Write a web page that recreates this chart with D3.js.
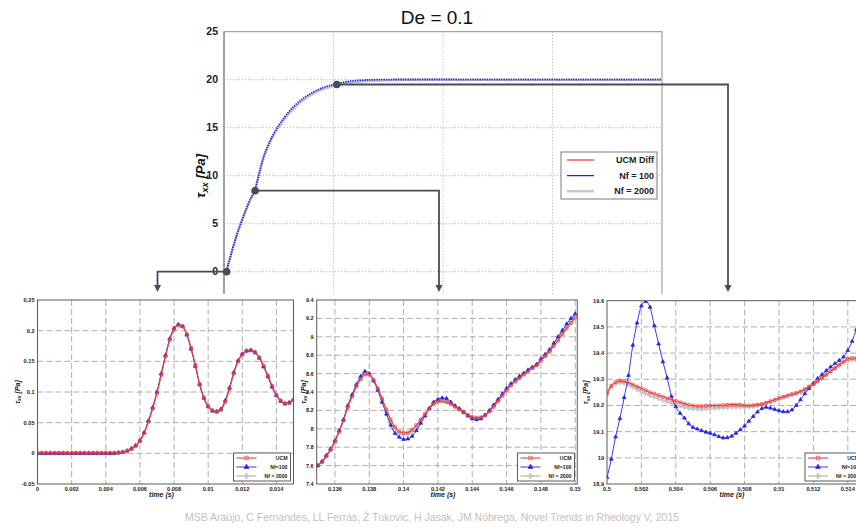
<!doctype html>
<html>
<head>
<meta charset="utf-8">
<script src="https://d3js.org/d3.v7.min.js"></script>
<style>
  body { margin: 0; background: #fff; }
  svg { display: block; font-family: "Liberation Sans", Arial, sans-serif; }
</style>
</head>
<body>
<div id="chart"></div>
<script>
// ---------------- main plot (De = 0.1) ----------------
var mainTime   = [0, 0.01, 0.02, 0.04, 0.06, 0.08, 0.1, 0.12, 0.14, 0.16, 0.18, 0.2, 0.225, 0.25, 0.3, 0.35, 0.4, 0.45, 0.5, 0.55, 0.6, 0.7, 0.8, 1.0, 1.25, 1.5, 1.75, 2.0];
var mainUcm    = [0, 0.05, 0.8, 2.4, 3.9, 5.2, 6.4, 7.5, 8.4, 10.1, 11.8, 13.0, 14.2, 15.1, 16.6, 17.7, 18.5, 19.05, 19.4, 19.63, 19.78, 19.93, 19.98, 20.0, 20.0, 20.0, 20.0, 20.0];
var mainNf100  = [0, 0.05, 0.8, 2.45, 3.95, 5.25, 6.45, 7.55, 8.45, 10.2, 11.9, 13.1, 14.3, 15.25, 16.75, 17.85, 18.6, 19.15, 19.5, 19.75, 19.9, 20.0, 20.02, 20.02, 20.0, 20.0, 20.0, 20.0];
var mainNf2000 = [0, 0.05, 0.8, 2.4, 3.9, 5.2, 6.4, 7.5, 8.4, 10.1, 11.8, 12.95, 14.15, 15.05, 16.55, 17.65, 18.45, 19.0, 19.35, 19.6, 19.75, 19.9, 19.97, 20.0, 20.0, 20.0, 20.0, 20.0];
var mainYTicks = [0, 5, 10, 15, 20, 25];
var mainXGrid  = [0.5, 1, 1.5];
// points of the main curve that are zoomed in the three small plots
var zoomTime  = [0.012, 0.142, 0.515];
var zoomValue = [0, 8.44, 19.5];

var mainNames = ["UCM Diff", "Nf = 100", "Nf = 2000"];
var subNames  = ["UCM", "Nf=100", "Nf = 2000"];

// ---------------- zoom 1 : t = 0 .. 0.015 ----------------
var sub1Time = d3.range(61).map(function(i) { return i * 0.00025; });
var sub1Ucm = [0.001,0.001,0.001,0.001,0.001,0.001,0.001,0.001,0.001,0.001,0.001,0.001,0.001,0.001,0.001,0.001,0.001,0.001,0.001,
  0.001, 0.002, 0.004, 0.007, 0.012, 0.02, 0.033, 0.052, 0.073, 0.098, 0.128, 0.158, 0.185, 0.202, 0.209, 0.207, 0.194, 0.172, 0.144, 0.113,
  0.091, 0.077, 0.07, 0.068, 0.071, 0.084, 0.105, 0.13, 0.15, 0.161, 0.167, 0.168, 0.165, 0.156, 0.143, 0.127, 0.11, 0.095, 0.086, 0.081, 0.082, 0.087];
var sub1Nf100 = [0,0,0,0,0,0,0,0,0,0,0,0,0,0,0,0,0,0,0,
  0.001, 0.002, 0.004, 0.008, 0.013, 0.021, 0.034, 0.053, 0.075, 0.1, 0.13, 0.16, 0.187, 0.204, 0.21, 0.207, 0.193, 0.17, 0.142, 0.112,
  0.09, 0.076, 0.069, 0.068, 0.072, 0.086, 0.107, 0.132, 0.151, 0.162, 0.167, 0.168, 0.164, 0.155, 0.141, 0.125, 0.108, 0.094, 0.085, 0.081, 0.083, 0.088];
var sub1Nf2000 = [0,0,0,0,0,0,0,0,0,0,0,0,0,0,0,0,0,0,0,
  0.001, 0.002, 0.004, 0.007, 0.012, 0.02, 0.033, 0.052, 0.074, 0.099, 0.129, 0.159, 0.186, 0.203, 0.209, 0.207, 0.193, 0.171, 0.143, 0.113,
  0.09, 0.077, 0.07, 0.068, 0.071, 0.085, 0.106, 0.131, 0.15, 0.161, 0.167, 0.168, 0.165, 0.156, 0.142, 0.126, 0.109, 0.095, 0.086, 0.081, 0.082, 0.087];
var sub1XTicks = [0, 0.002, 0.004, 0.006, 0.008, 0.01, 0.012, 0.014];
var sub1YTicks = [-0.05, 0, 0.05, 0.1, 0.15, 0.2, 0.25];

// ---------------- zoom 2 : t = 0.135 .. 0.15 ----------------
var sub2Time = d3.range(61).map(function(i) { return 0.135 + i * 0.00025; });
var sub2Ucm = [7.6, 7.64, 7.70, 7.77, 7.86, 7.97, 8.09, 8.23, 8.35, 8.46,
  8.54, 8.59, 8.59, 8.53, 8.44, 8.33, 8.21, 8.10, 8.02, 7.97,
  7.955, 7.96, 7.99, 8.04, 8.10, 8.16, 8.22, 8.27, 8.295, 8.30,
  8.29, 8.27, 8.24, 8.21, 8.18, 8.15, 8.13, 8.12, 8.125, 8.15,
  8.19, 8.24, 8.30, 8.36, 8.42, 8.47, 8.515, 8.55, 8.59, 8.625,
  8.66, 8.69, 8.74, 8.79, 8.84, 8.90, 8.96, 9.03, 9.09, 9.15, 9.21];
var sub2Nf100 = [7.6, 7.645, 7.71, 7.78, 7.87, 7.98, 8.10, 8.25, 8.37, 8.48,
  8.57, 8.625, 8.60, 8.52, 8.42, 8.29, 8.16, 8.04, 7.95, 7.91,
  7.885, 7.89, 7.92, 7.98, 8.06, 8.14, 8.22, 8.29, 8.32, 8.335,
  8.33, 8.29, 8.25, 8.22, 8.18, 8.14, 8.11, 8.10, 8.11, 8.15,
  8.20, 8.26, 8.32, 8.38, 8.44, 8.49, 8.535, 8.57, 8.605, 8.64,
  8.67, 8.70, 8.76, 8.81, 8.86, 8.93, 9.0, 9.07, 9.14, 9.2, 9.25];
var sub2Nf2000 = [7.6, 7.64, 7.705, 7.775, 7.865, 7.975, 8.095, 8.24, 8.36, 8.47,
  8.55, 8.6, 8.595, 8.525, 8.43, 8.31, 8.19, 8.07, 7.99, 7.95,
  7.935, 7.94, 7.97, 8.02, 8.09, 8.16, 8.22, 8.275, 8.305, 8.31,
  8.3, 8.275, 8.245, 8.21, 8.175, 8.145, 8.12, 8.11, 8.115, 8.145,
  8.19, 8.245, 8.305, 8.365, 8.425, 8.475, 8.52, 8.555, 8.595, 8.63,
  8.665, 8.695, 8.745, 8.795, 8.845, 8.91, 8.975, 9.045, 9.11, 9.17, 9.23];
var sub2XTicks = [0.136, 0.138, 0.14, 0.142, 0.144, 0.146, 0.148, 0.15];
var sub2YTicks = [7.4, 7.6, 7.8, 8, 8.2, 8.4, 8.6, 8.8, 9, 9.2, 9.4];

// ---------------- zoom 3 : t = 0.5 .. 0.515 ----------------
var sub3Time = d3.range(61).map(function(i) { return 0.5 + i * 0.00025; });
var sub3Ucm = [19.247, 19.275, 19.289, 19.294, 19.293, 19.288, 19.28, 19.272, 19.265, 19.258,
  19.25, 19.245, 19.239, 19.233, 19.227, 19.222, 19.217, 19.212, 19.206, 19.202,
  19.199, 19.197, 19.197, 19.198, 19.199, 19.2, 19.2, 19.201, 19.202, 19.203,
  19.203, 19.202, 19.2, 19.2, 19.201, 19.203, 19.205, 19.21, 19.216, 19.222,
  19.228, 19.233, 19.238, 19.243, 19.247, 19.253, 19.262, 19.272, 19.282, 19.293,
  19.305, 19.318, 19.331, 19.343, 19.356, 19.368, 19.378, 19.381, 19.38, 19.378, 19.376];
var sub3Nf100 = [18.925, 18.995, 19.08, 19.15, 19.23, 19.315, 19.43, 19.515, 19.58, 19.597,
  19.575, 19.505, 19.435, 19.367, 19.305, 19.235, 19.195, 19.17, 19.152, 19.13,
  19.116, 19.11, 19.104, 19.098, 19.094, 19.088, 19.081, 19.076, 19.077, 19.083,
  19.094, 19.107, 19.122, 19.14, 19.158, 19.175, 19.188, 19.193, 19.19, 19.185,
  19.18, 19.176, 19.176, 19.183, 19.2, 19.222, 19.245, 19.265, 19.285, 19.303,
  19.318, 19.333, 19.347, 19.36, 19.372, 19.385, 19.41, 19.445, 19.49, 19.53, 19.57];
var sub3Nf2000 = [19.243, 19.27, 19.283, 19.287, 19.285, 19.279, 19.27, 19.261, 19.253, 19.245,
  19.238, 19.232, 19.226, 19.22, 19.214, 19.208, 19.203, 19.198, 19.193, 19.19,
  19.187, 19.186, 19.186, 19.187, 19.188, 19.189, 19.19, 19.191, 19.192, 19.193,
  19.193, 19.193, 19.193, 19.194, 19.196, 19.199, 19.203, 19.208, 19.213, 19.219,
  19.225, 19.23, 19.236, 19.241, 19.246, 19.252, 19.261, 19.271, 19.281, 19.292,
  19.304, 19.316, 19.328, 19.34, 19.352, 19.362, 19.37, 19.373, 19.372, 19.37, 19.368];
var sub3XTicks = [0.5, 0.502, 0.504, 0.506, 0.508, 0.51, 0.512, 0.514];
var sub3YTicks = [18.9, 19, 19.1, 19.2, 19.3, 19.4, 19.5, 19.6];

var credit = "MSB Araújo, C Fernandes, LL Ferrás, Ž Tukovic, H Jasak, JM Nóbrega, Novel Trends in Rheology V, 2015";

var RED = "#f23c3c", BLUE = "#2424e6", GRAY = "#c9c9c9", LINK = "#454d5c";

var svg = d3.select("#chart").append("svg")
    .attr("width", 856)
    .attr("height", 531);

svg.append("rect").attr("width", 856).attr("height", 531).attr("fill", "#fff");

// ---------------- main plot ----------------
var mx = d3.scaleLinear().domain([0, 2]).range([224, 662]);
var my = d3.scaleLinear().domain([-5, 25]).range([319.7, 31.7]);

var main = svg.append("g");

main.append("g").selectAll("line.h")
  .data(mainYTicks.filter(function(d) { return d < 25; }))
  .enter().append("line")
    .attr("x1", mx(0)).attr("x2", mx(2))
    .attr("y1", function(d) { return my(d); }).attr("y2", function(d) { return my(d); })
    .attr("stroke", "#9a9a9a").attr("stroke-width", 0.8).attr("stroke-dasharray", "1,2");

main.append("g").selectAll("line.v")
  .data(mainXGrid)
  .enter().append("line")
    .attr("x1", function(d) { return mx(d); }).attr("x2", function(d) { return mx(d); })
    .attr("y1", my(25)).attr("y2", my(-5))
    .attr("stroke", "#9a9a9a").attr("stroke-width", 0.8).attr("stroke-dasharray", "1,2");

main.append("rect")
  .attr("x", mx(0)).attr("y", my(25))
  .attr("width", mx(2) - mx(0)).attr("height", my(-5) - my(25))
  .attr("fill", "none").attr("stroke", "#8f8f8f").attr("stroke-width", 1);
main.append("line")
  .attr("x1", mx(0)).attr("x2", mx(0)).attr("y1", my(25)).attr("y2", my(-5))
  .attr("stroke", "#999").attr("stroke-width", 1.6);

main.append("g").selectAll("text")
  .data(mainYTicks)
  .enter().append("text")
    .attr("x", mx(0) - 6)
    .attr("y", function(d) { return my(d); })
    .attr("dy", "0.35em")
    .attr("text-anchor", "end")
    .attr("font-size", 10.5).attr("font-weight", "bold").attr("fill", "#222")
    .text(function(d) { return d; });

var mainLine = function(values) {
  return d3.line()
    .x(function(d, i) { return mx(mainTime[i]); })
    .y(function(d) { return my(d); })
    .curve(d3.curveMonotoneX)(values);
};

main.append("path").attr("d", mainLine(mainUcm))
  .attr("fill", "none").attr("stroke", RED).attr("stroke-width", 1);
main.append("path").attr("d", mainLine(mainNf2000))
  .attr("fill", "none").attr("stroke", GRAY).attr("stroke-width", 2.6);
main.append("path").attr("d", mainLine(mainNf100))
  .attr("fill", "none").attr("stroke", BLUE).attr("stroke-width", 1.8)
  .attr("stroke-dasharray", "1.4,1");

// title and y label
svg.append("text")
  .attr("x", 437).attr("y", 24)
  .attr("text-anchor", "middle")
  .attr("font-size", 19).attr("fill", "#111")
  .text("De = 0.1");

var mainYLabel = svg.append("text")
  .attr("transform", "translate(205,176) rotate(-90)")
  .attr("text-anchor", "middle")
  .attr("font-size", 13).attr("font-weight", "bold").attr("font-style", "italic").attr("fill", "#111");
mainYLabel.append("tspan").text("τ");
mainYLabel.append("tspan").attr("font-size", 9.5).attr("dy", 3).text("xx");
mainYLabel.append("tspan").attr("dy", -3).text(" [Pa]");

// legend
var lg = svg.append("g").attr("transform", "translate(561,152)");
lg.append("rect").attr("width", 96).attr("height", 47)
  .attr("fill", "#fff").attr("stroke", "#7a7a7a").attr("stroke-width", 1);
var legColors = [RED, BLUE, GRAY];
var legWidths = [1.3, 1.3, 2.6];
mainNames.forEach(function(name, i) {
  var yy = 8 + i * 15.6;
  lg.append("line").attr("x1", 6).attr("x2", 33).attr("y1", yy).attr("y2", yy)
    .attr("stroke", legColors[i]).attr("stroke-width", legWidths[i]);
  lg.append("text").attr("x", 93).attr("y", yy).attr("dy", "0.35em")
    .attr("text-anchor", "end").attr("font-size", 9).attr("font-weight", "bold")
    .attr("fill", "#222").text(name);
});

// ---------------- small zoom plots ----------------
function drawSub(cfg) {
  var x = d3.scaleLinear().domain(cfg.xDomain).range([cfg.left, cfg.right]);
  var y = d3.scaleLinear().domain(cfg.yDomain).range([cfg.bottom, cfg.top]);
  var g = svg.append("g");

  var clipId = "clip" + cfg.id;
  g.append("clipPath").attr("id", clipId).append("rect")
    .attr("x", cfg.left).attr("y", cfg.top)
    .attr("width", cfg.right - cfg.left).attr("height", cfg.bottom - cfg.top);

  // dashed grid
  g.append("g").selectAll("line")
    .data(cfg.yTicks.slice(1, -1))
    .enter().append("line")
      .attr("x1", cfg.left).attr("x2", cfg.right)
      .attr("y1", function(d) { return y(d); }).attr("y2", function(d) { return y(d); })
      .attr("stroke", "#9c9c9c").attr("stroke-width", 0.8).attr("stroke-dasharray", "6,3");
  g.append("g").selectAll("line")
    .data(cfg.xTicks.filter(function(d) { return x(d) > cfg.left + 1 && x(d) < cfg.right - 1; }))
    .enter().append("line")
      .attr("x1", function(d) { return x(d); }).attr("x2", function(d) { return x(d); })
      .attr("y1", cfg.top).attr("y2", cfg.bottom)
      .attr("stroke", "#9c9c9c").attr("stroke-width", 0.8).attr("stroke-dasharray", "6,3");

  // tick labels
  g.append("g").selectAll("text")
    .data(cfg.yTicks)
    .enter().append("text")
      .attr("x", cfg.left - 3).attr("y", function(d) { return y(d); }).attr("dy", "0.35em")
      .attr("text-anchor", "end").attr("font-size", 5.6).attr("font-weight", "bold").attr("fill", "#222")
      .text(function(d) { return d; });
  g.append("g").selectAll("text")
    .data(cfg.xTicks)
    .enter().append("text")
      .attr("x", function(d) { return x(d); }).attr("y", cfg.bottom + 7)
      .attr("text-anchor", "middle").attr("font-size", 5.6).attr("font-weight", "bold").attr("fill", "#222")
      .text(function(d) { return d; });

  // axis titles
  g.append("text")
    .attr("x", (cfg.left + Math.min(cfg.right, 866)) / 2 - 4).attr("y", cfg.bottom + 13)
    .attr("text-anchor", "middle").attr("font-size", 7).attr("font-weight", "bold")
    .attr("font-style", "italic").attr("fill", "#222")
    .text("time (s)");
  var yl = g.append("text")
    .attr("transform", "translate(" + (cfg.left + cfg.yLabelOffset) + "," + ((cfg.top + cfg.bottom) / 2) + ") rotate(-90)")
    .attr("text-anchor", "middle").attr("font-size", 7).attr("font-weight", "bold")
    .attr("font-style", "italic").attr("fill", "#222");
  yl.append("tspan").text("τ");
  yl.append("tspan").attr("font-size", 5).attr("dy", 1.5).text("xx");
  yl.append("tspan").attr("dy", -1.5).text(" [Pa]");

  // series: gray first, blue, then red markers over it
  var styles = [
    { values: cfg.nf2000, color: GRAY, symbol: d3.symbolCross, size: 9, fill: GRAY, width: 1.6 },
    { values: cfg.nf100, color: BLUE, symbol: d3.symbolTriangle, size: 6, fill: BLUE, width: 0.9 },
    { values: cfg.ucm, color: RED, symbol: d3.symbolSquare, size: 8, fill: "none", width: 1.1 }
  ];
  var plot = g.append("g").attr("clip-path", "url(#" + clipId + ")");
  styles.forEach(function(s) {
    var line = d3.line()
      .x(function(d, i) { return x(cfg.time[i]); })
      .y(function(d) { return y(d); })
      .curve(d3.curveMonotoneX);
    plot.append("path").attr("d", line(s.values))
      .attr("fill", "none").attr("stroke", s.color).attr("stroke-width", s.width);
    plot.append("g").selectAll("path")
      .data(s.values)
      .enter().append("path")
        .attr("transform", function(d, i) { return "translate(" + x(cfg.time[i]) + "," + y(d) + ")"; })
        .attr("d", d3.symbol().type(s.symbol).size(s.size))
        .attr("fill", s.fill).attr("stroke", s.color).attr("stroke-width", 0.7);
  });

  // frame
  g.append("rect")
    .attr("x", cfg.left).attr("y", cfg.top)
    .attr("width", cfg.right - cfg.left).attr("height", cfg.bottom - cfg.top)
    .attr("fill", "none").attr("stroke", "#5a5a5a").attr("stroke-width", 1);

  // legend in lower right corner
  var lx = cfg.legendRight - 57, ly = cfg.bottom - 31;
  var lgd = g.append("g").attr("transform", "translate(" + lx + "," + ly + ")");
  lgd.append("rect").attr("width", 57).attr("height", 28)
    .attr("fill", "#fff").attr("stroke", "#333").attr("stroke-width", 0.8);
  var order = [styles[2], styles[1], styles[0]];
  subNames.forEach(function(name, i) {
    var yy = 5 + i * 9;
    var s = order[i];
    lgd.append("line").attr("x1", 3).attr("x2", 23).attr("y1", yy).attr("y2", yy)
      .attr("stroke", s.color).attr("stroke-width", s.width);
    lgd.append("path").attr("transform", "translate(13," + yy + ")")
      .attr("d", d3.symbol().type(s.symbol).size(s.size + 4))
      .attr("fill", s.fill).attr("stroke", s.color).attr("stroke-width", 0.7);
    lgd.append("text").attr("x", 54).attr("y", yy).attr("dy", "0.35em")
      .attr("text-anchor", "end").attr("font-size", 5.2).attr("font-weight", "bold")
      .attr("fill", "#222").text(name);
  });
  return { x: x, y: y };
}

// white panels of the zoom figures cover the lower part of the main plot
svg.append("rect").attr("x", 0).attr("y", 294).attr("width", 856).attr("height", 210).attr("fill", "#fff");

var subs = [
  { id: 1, left: 37.5, right: 293.5, top: 300, bottom: 484, xDomain: [0, 0.015], yDomain: [-0.05, 0.25],
    xTicks: sub1XTicks, yTicks: sub1YTicks, time: sub1Time, ucm: sub1Ucm, nf100: sub1Nf100, nf2000: sub1Nf2000,
    yLabelOffset: -18, legendRight: 290.5 },
  { id: 2, left: 316.7, right: 577.3, top: 300, bottom: 484, xDomain: [0.13494, 0.15012], yDomain: [7.4, 9.4],
    xTicks: sub2XTicks, yTicks: sub2YTicks, time: sub2Time, ucm: sub2Ucm, nf100: sub2Nf100, nf2000: sub2Nf2000,
    yLabelOffset: -11, legendRight: 574.5 },
  { id: 3, left: 607, right: 865, top: 300.7, bottom: 484, xDomain: [0.5, 0.515], yDomain: [18.9, 19.6],
    xTicks: sub3XTicks, yTicks: sub3YTicks, time: sub3Time, ucm: sub3Ucm, nf100: sub3Nf100, nf2000: sub3Nf2000,
    yLabelOffset: -19, legendRight: 862 }
];
subs.forEach(drawSub);

// ---------------- connectors from main curve to zoom plots ----------------
var links = svg.append("g");
zoomTime.forEach(function(t, i) {
  var px = mx(t), py = my(zoomValue[i]);
  var s = subs[i];
  var ax = (s.left + s.right) / 2 - 8;
  links.append("path")
    .attr("d", "M" + px + "," + py + "H" + ax + "V" + 286)
    .attr("fill", "none").attr("stroke", LINK).attr("stroke-width", 1.8);
  links.append("path")
    .attr("d", "M" + (ax - 3.5) + ",285L" + (ax + 3.5) + ",285L" + ax + ",292Z")
    .attr("fill", LINK);
  links.append("circle").attr("cx", px).attr("cy", py).attr("r", 3.8).attr("fill", LINK);
});

// credit line
svg.append("text")
  .attr("x", 432).attr("y", 521)
  .attr("text-anchor", "middle")
  .attr("font-size", 10.5).attr("fill", "#c2c2c2")
  .text(credit);
</script>
</body>
</html>
